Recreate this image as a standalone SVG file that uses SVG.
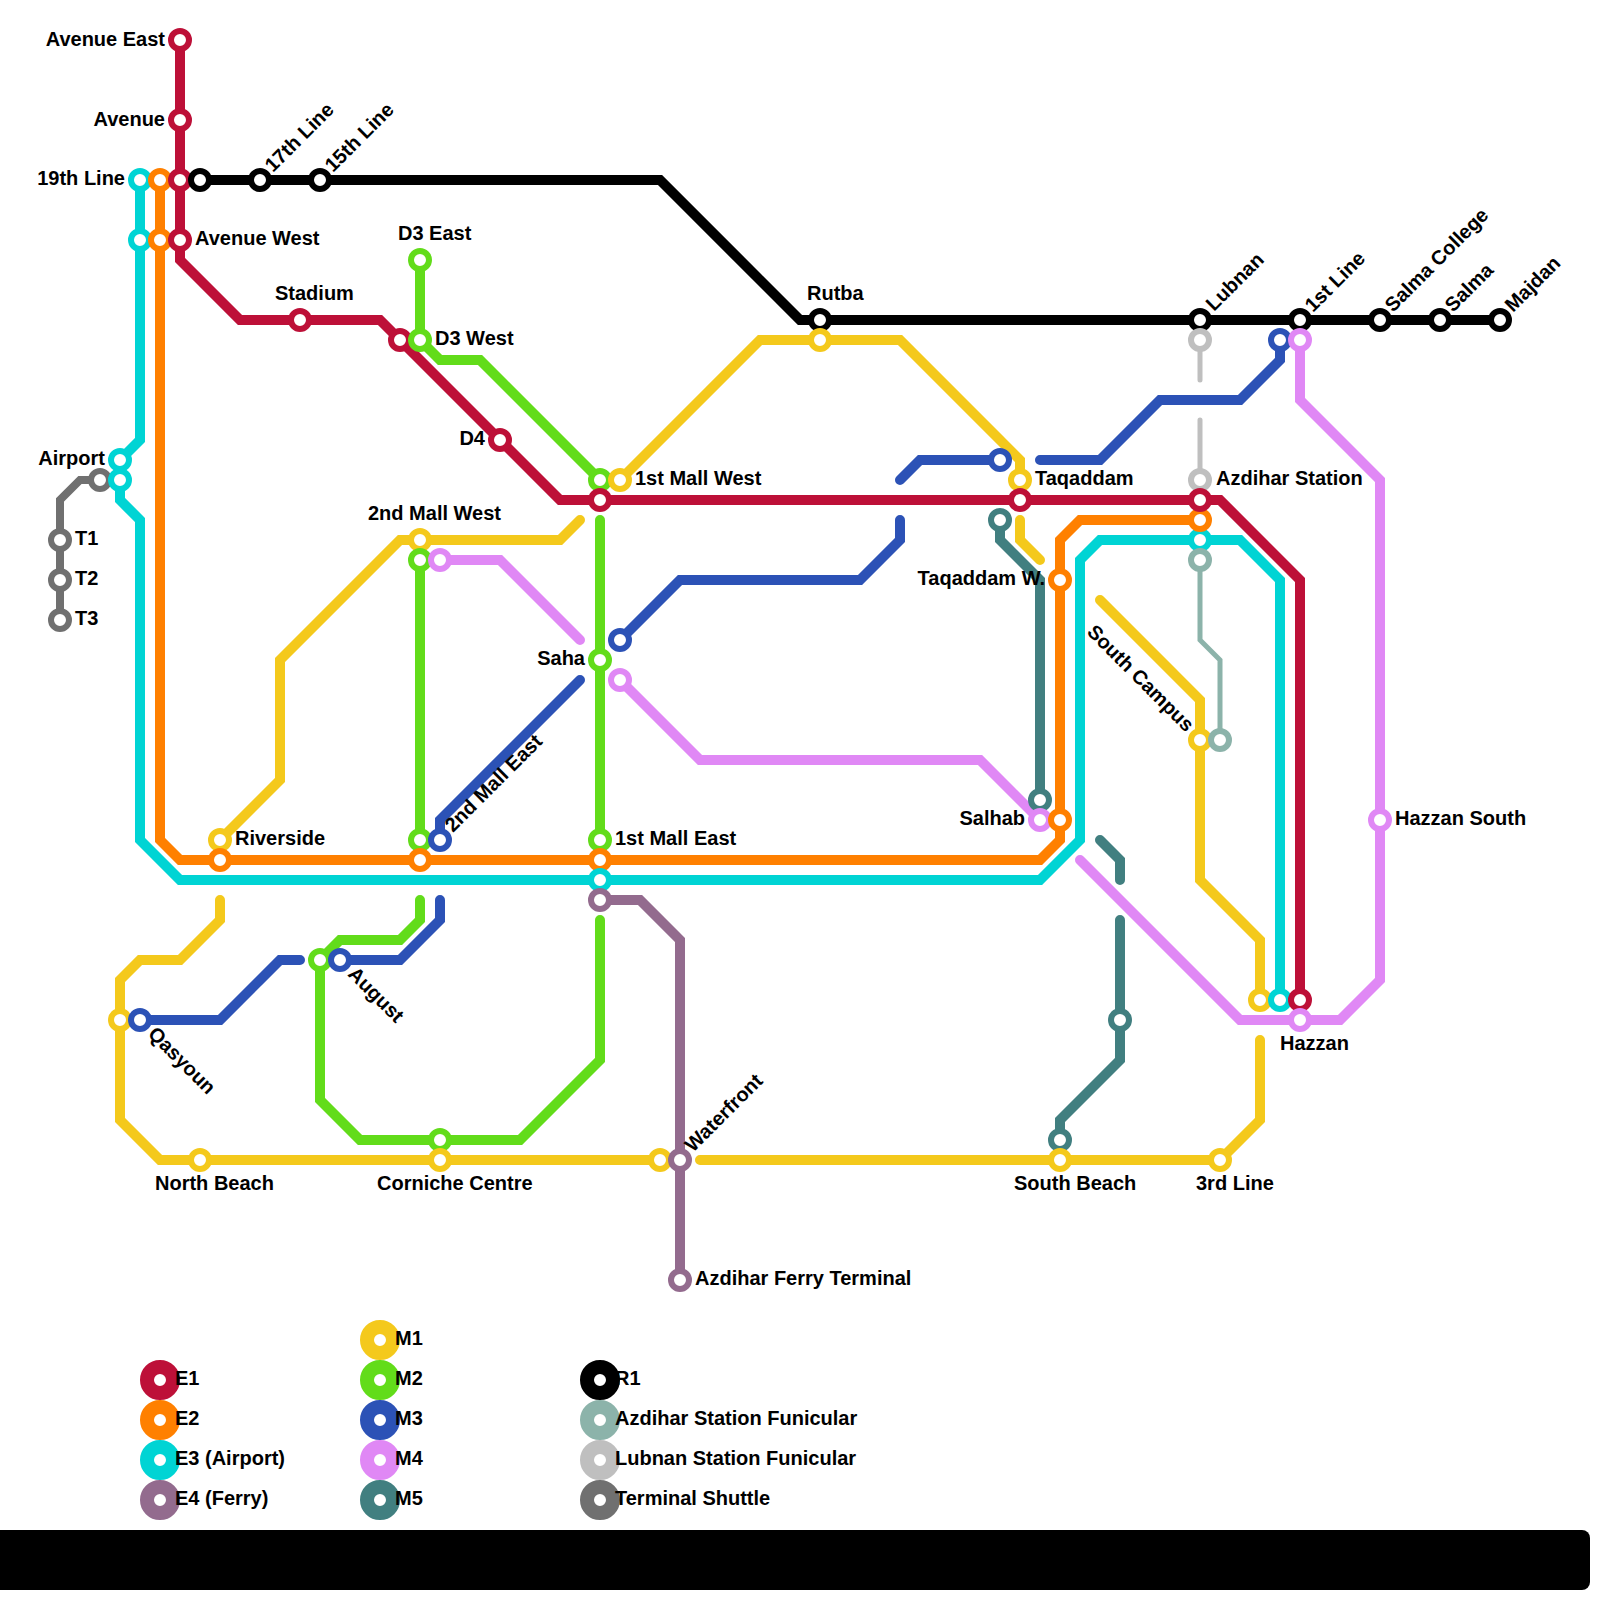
<svg xmlns="http://www.w3.org/2000/svg" width="1600" height="1600" viewBox="0 0 1600 1600">
<style>
text{font-family:"Liberation Sans",Arial,sans-serif;font-size:20px;font-weight:700;fill:#000}
.e{text-anchor:end}
.l{fill:none;stroke-width:10;stroke-linecap:round;stroke-linejoin:miter;stroke-miterlimit:10}
.s{fill:#fff;stroke-width:6}
.k{fill:#fff;stroke-width:14}
.e1{stroke:#bd1038}.e2{stroke:#ff8000}.e3{stroke:#00d4d4}.e4{stroke:#936b8e}
.m1{stroke:#f4c91c}.m2{stroke:#62dc1a}.m3{stroke:#2c52b6}.m4{stroke:#e088f5}.m5{stroke:#417f80}
.r1{stroke:#000}.af{stroke:#8cb3aa}.lf{stroke:#bfbfbf}.ts{stroke:#707070}
.t4{stroke-width:5}.t8{stroke-width:8}
</style>
<rect x="-20" y="1530" width="1610" height="60" rx="8" fill="#000"/>
<g id="connectors">
<path class="l r1" d="M200 180H660L800 320H1500"/>
<path class="l ts t8" d="M100 480H80L60 500V620"/>
<path class="l lf t4" d="M1200 340V380M1200 420V480"/>
<path class="l af t4" d="M1200 560V640L1220 660V740"/>
<path class="l m5" d="M1000 520V540L1040 580V800M1100 840L1120 860V880M1120 920V1060L1060 1120V1140"/>
<path class="l m4" d="M1300 340V400L1380 480V980L1340 1020H1240L1080 860M1040 820L980 760H700L620 680M580 640L500 560H440"/>
<path class="l m3" d="M1280 340V360L1240 400H1160L1100 460H1040M1000 460H920L900 480M900 520V540L860 580H680L620 640M580 680L440 820V840M440 900V920L400 960H340M300 960H280L220 1020H140"/>
<path class="l m2" d="M420 260V340L440 360H480L600 480M600 520V840M600 920V1060L520 1140H360L320 1100V960L340 940H400L420 920V900M420 840V560"/>
<path class="l m1" d="M1260 1000V940L1200 880V700L1100 600M1040 560L1020 540V520M1020 480V460L900 340H760L620 480M580 520L560 540H400L280 660V780L220 840M220 900V920L180 960H140L120 980V1120L160 1160H660M700 1160H1220L1260 1120V1040"/>
<path class="l e4" d="M600 900H640L680 940V1280"/>
<path class="l e3" d="M140 180V440L120 460M120 480V500L140 520V840L180 880H1040L1080 840V560L1100 540H1240L1280 580V1000"/>
<path class="l e2" d="M160 180V840L180 860H1040L1060 840V540L1080 520H1200"/>
<path class="l e1" d="M180 40V260L240 320H380L560 500H1220L1300 580V1000"/>
</g>
<g id="n-t1"><circle class="s ts" cx="100" cy="480" r="9"/></g>
<g id="n-t1b"><circle class="s ts" cx="60" cy="540" r="9"/><text x="75" y="545">T1</text></g>
<g id="n-t2"><circle class="s ts" cx="60" cy="580" r="9"/><text x="75" y="585">T2</text></g>
<g id="n-t3"><circle class="s ts" cx="60" cy="620" r="9"/><text x="75" y="625">T3</text></g>
<g id="n-19e3"><circle class="s e3" cx="140" cy="180" r="9"/><text class="e" x="125" y="185">19th Line</text></g>
<g id="n-awe3"><circle class="s e3" cx="140" cy="240" r="9"/></g>
<g id="n-airport"><circle class="s e3" cx="120" cy="460" r="9"/><text class="e" x="105" y="465">Airport</text></g>
<g id="n-airport2"><circle class="s e3" cx="120" cy="480" r="9"/></g>
<g id="n-19e2"><circle class="s e2" cx="160" cy="180" r="9"/></g>
<g id="n-awe2"><circle class="s e2" cx="160" cy="240" r="9"/></g>
<g id="n-aveeast"><circle class="s e1" cx="180" cy="40" r="9"/><text class="e" x="165" y="46">Avenue East</text></g>
<g id="n-ave"><circle class="s e1" cx="180" cy="120" r="9"/><text class="e" x="165" y="126">Avenue</text></g>
<g id="n-19e1"><circle class="s e1" cx="180" cy="180" r="9"/></g>
<g id="n-avewest"><circle class="s e1" cx="180" cy="240" r="9"/><text x="195" y="245">Avenue West</text></g>
<g id="n-19r"><circle class="s r1" cx="200" cy="180" r="9"/></g>
<g id="n-17"><circle class="s r1" cx="260" cy="180" r="9"/><text transform="translate(273 173) rotate(-45)">17th Line</text></g>
<g id="n-15"><circle class="s r1" cx="320" cy="180" r="9"/><text transform="translate(333 173) rotate(-45)">15th Line</text></g>
<g id="n-stadium"><circle class="s e1" cx="300" cy="320" r="9"/><text x="275" y="300">Stadium</text></g>
<g id="n-d3wr"><circle class="s e1" cx="400" cy="340" r="9"/></g>
<g id="n-d3e"><circle class="s m2" cx="420" cy="260" r="9"/><text x="398" y="240">D3 East</text></g>
<g id="n-d3w"><circle class="s m2" cx="420" cy="340" r="9"/><text x="435" y="345">D3 West</text></g>
<g id="n-d4"><circle class="s e1" cx="500" cy="440" r="9"/><text class="e" x="485" y="445">D4</text></g>
<g id="n-2mwy"><circle class="s m1" cx="420" cy="540" r="9"/><text x="368" y="520">2nd Mall West</text></g>
<g id="n-2mwg"><circle class="s m2" cx="420" cy="560" r="9"/></g>
<g id="n-2mwp"><circle class="s m4" cx="440" cy="560" r="9"/></g>
<g id="n-1mwg"><circle class="s m2" cx="600" cy="480" r="9"/></g>
<g id="n-1mwy"><circle class="s m1" cx="620" cy="480" r="9"/><text x="635" y="485">1st Mall West</text></g>
<g id="n-1mwr"><circle class="s e1" cx="600" cy="500" r="9"/></g>
<g id="n-sahab"><circle class="s m3" cx="620" cy="640" r="9"/></g>
<g id="n-saha"><circle class="s m2" cx="600" cy="660" r="9"/><text class="e" x="585" y="665">Saha</text></g>
<g id="n-sahap"><circle class="s m4" cx="620" cy="680" r="9"/></g>
<g id="n-river"><circle class="s m1" cx="220" cy="840" r="9"/><text x="235" y="845">Riverside</text></g>
<g id="n-rivero"><circle class="s e2" cx="220" cy="860" r="9"/></g>
<g id="n-2meg"><circle class="s m2" cx="420" cy="840" r="9"/></g>
<g id="n-2meb"><circle class="s m3" cx="440" cy="840" r="9"/><text transform="translate(453 833) rotate(-45)">2nd Mall East</text></g>
<g id="n-2meo"><circle class="s e2" cx="420" cy="860" r="9"/></g>
<g id="n-1meg"><circle class="s m2" cx="600" cy="840" r="9"/><text x="615" y="845">1st Mall East</text></g>
<g id="n-1meo"><circle class="s e2" cx="600" cy="860" r="9"/></g>
<g id="n-1mec"><circle class="s e3" cx="600" cy="880" r="9"/></g>
<g id="n-1mep"><circle class="s e4" cx="600" cy="900" r="9"/></g>
<g id="n-augg"><circle class="s m2" cx="320" cy="960" r="9"/></g>
<g id="n-aug"><circle class="s m3" cx="340" cy="960" r="9"/><text transform="translate(347 975) rotate(45)">August</text></g>
<g id="n-qasy"><circle class="s m1" cx="120" cy="1020" r="9"/></g>
<g id="n-qas"><circle class="s m3" cx="140" cy="1020" r="9"/><text transform="translate(147 1035) rotate(45)">Qasyoun</text></g>
<g id="n-nb"><circle class="s m1" cx="200" cy="1160" r="9"/><text x="155" y="1190">North Beach</text></g>
<g id="n-ccg"><circle class="s m2" cx="440" cy="1140" r="9"/></g>
<g id="n-cc"><circle class="s m1" cx="440" cy="1160" r="9"/><text x="377" y="1190">Corniche Centre</text></g>
<g id="n-wfy"><circle class="s m1" cx="660" cy="1160" r="9"/></g>
<g id="n-wf"><circle class="s e4" cx="680" cy="1160" r="9"/><text transform="translate(693 1153) rotate(-45)">Waterfront</text></g>
<g id="n-aft"><circle class="s e4" cx="680" cy="1280" r="9"/><text x="695" y="1285">Azdihar Ferry Terminal</text></g>
<g id="n-rutba"><circle class="s r1" cx="820" cy="320" r="9"/><text x="807" y="300">Rutba</text></g>
<g id="n-rutbay"><circle class="s m1" cx="820" cy="340" r="9"/></g>
<g id="n-taqb"><circle class="s m3" cx="1000" cy="460" r="9"/></g>
<g id="n-taqy"><circle class="s m1" cx="1020" cy="480" r="9"/><text x="1035" y="485">Taqaddam</text></g>
<g id="n-taqr"><circle class="s e1" cx="1020" cy="500" r="9"/></g>
<g id="n-taqt"><circle class="s m5" cx="1000" cy="520" r="9"/></g>
<g id="n-taqw"><circle class="s e2" cx="1060" cy="580" r="9"/><text class="e" x="1045" y="585">Taqaddam W.</text></g>
<g id="n-salt"><circle class="s m5" cx="1040" cy="800" r="9"/></g>
<g id="n-salp"><circle class="s m4" cx="1040" cy="820" r="9"/><text class="e" x="1025" y="825">Salhab</text></g>
<g id="n-salo"><circle class="s e2" cx="1060" cy="820" r="9"/></g>
<g id="n-sc"><circle class="s m1" cx="1200" cy="740" r="9"/><text transform="translate(1086 633) rotate(45)">South Campus</text></g>
<g id="n-scf"><circle class="s af" cx="1220" cy="740" r="9"/></g>
<g id="n-lub"><circle class="s r1" cx="1200" cy="320" r="9"/><text transform="translate(1214 312) rotate(-45)">Lubnan</text></g>
<g id="n-lubf"><circle class="s lf" cx="1200" cy="340" r="9"/></g>
<g id="n-azf"><circle class="s lf" cx="1200" cy="480" r="9"/><text x="1216" y="485">Azdihar Station</text></g>
<g id="n-azc"><circle class="s e3" cx="1200" cy="540" r="9"/></g>
<g id="n-azo"><circle class="s e2" cx="1200" cy="520" r="9"/></g>
<g id="n-azr"><circle class="s e1" cx="1200" cy="500" r="9"/></g>
<g id="n-azaf"><circle class="s af" cx="1200" cy="560" r="9"/></g>
<g id="n-1l"><circle class="s r1" cx="1300" cy="320" r="9"/><text transform="translate(1313 313) rotate(-45)">1st Line</text></g>
<g id="n-1lb"><circle class="s m3" cx="1280" cy="340" r="9"/></g>
<g id="n-1lp"><circle class="s m4" cx="1300" cy="340" r="9"/></g>
<g id="n-sc2"><circle class="s r1" cx="1380" cy="320" r="9"/><text transform="translate(1393 313) rotate(-45)">Salma College</text></g>
<g id="n-sal"><circle class="s r1" cx="1440" cy="320" r="9"/><text transform="translate(1453 313) rotate(-45)">Salma</text></g>
<g id="n-maj"><circle class="s r1" cx="1500" cy="320" r="9"/><text transform="translate(1513 313) rotate(-45)">Majdan</text></g>
<g id="n-hs"><circle class="s m4" cx="1380" cy="820" r="9"/><text x="1395" y="825">Hazzan South</text></g>
<g id="n-hy"><circle class="s m1" cx="1260" cy="1000" r="9"/></g>
<g id="n-hc"><circle class="s e3" cx="1280" cy="1000" r="9"/></g>
<g id="n-hr"><circle class="s e1" cx="1300" cy="1000" r="9"/></g>
<g id="n-hp"><circle class="s m4" cx="1300" cy="1020" r="9"/><text x="1280" y="1050">Hazzan</text></g>
<g id="n-m5h"><circle class="s m5" cx="1120" cy="1020" r="9"/></g>
<g id="n-sbt"><circle class="s m5" cx="1060" cy="1140" r="9"/></g>
<g id="n-sb"><circle class="s m1" cx="1060" cy="1160" r="9"/><text x="1014" y="1190">South Beach</text></g>
<g id="n-3l"><circle class="s m1" cx="1220" cy="1160" r="9"/><text x="1196" y="1190">3rd Line</text></g>
<g id="legend">
<circle class="k e1" cx="160" cy="1380" r="13"/><text x="175" y="1385">E1</text>
<circle class="k e2" cx="160" cy="1420" r="13"/><text x="175" y="1425">E2</text>
<circle class="k e3" cx="160" cy="1460" r="13"/><text x="175" y="1465">E3 (Airport)</text>
<circle class="k e4" cx="160" cy="1500" r="13"/><text x="175" y="1505">E4 (Ferry)</text>
<circle class="k m1" cx="380" cy="1340" r="13"/><text x="395" y="1345">M1</text>
<circle class="k m2" cx="380" cy="1380" r="13"/><text x="395" y="1385">M2</text>
<circle class="k m3" cx="380" cy="1420" r="13"/><text x="395" y="1425">M3</text>
<circle class="k m4" cx="380" cy="1460" r="13"/><text x="395" y="1465">M4</text>
<circle class="k m5" cx="380" cy="1500" r="13"/><text x="395" y="1505">M5</text>
<circle class="k r1" cx="600" cy="1380" r="13"/><text x="615" y="1385">R1</text>
<circle class="k af" cx="600" cy="1420" r="13"/><text x="615" y="1425">Azdihar Station Funicular</text>
<circle class="k lf" cx="600" cy="1460" r="13"/><text x="615" y="1465">Lubnan Station Funicular</text>
<circle class="k ts" cx="600" cy="1500" r="13"/><text x="615" y="1505">Terminal Shuttle</text>
</g>
</svg>
